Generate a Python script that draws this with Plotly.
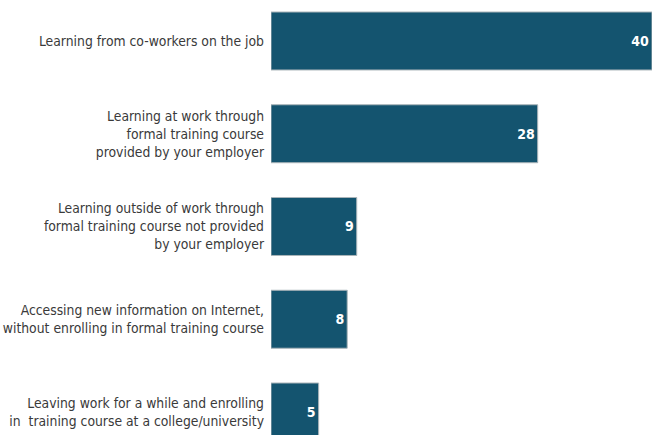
import plotly.graph_objects as go

categories = [
    "Learning from co-workers on the job",
    "Learning at work through<br>formal training course<br>provided by your employer",
    "Learning outside of work through<br>formal training course not provided<br>by your employer",
    "Accessing new information on Internet,<br>without enrolling in formal training course",
    "Leaving work for a while and enrolling<br>in  training course at a college/university",
]
values = [40, 28, 9, 8, 5]
value_labels = ["40", "28", "9", "8", "5"]

FONT = "Liberation Sans Narrow, DejaVu Sans Condensed, Arial Narrow, sans-serif"

fig = go.Figure(
    go.Bar(
        x=values,
        y=categories,
        orientation="h",
        marker=dict(color="#14546f", line=dict(color="#aab4b9", width=1)),
        text=value_labels,
        textposition="inside",
        insidetextanchor="end",
        textangle=0,
        textfont=dict(family=FONT, size=14, color="white", weight="bold"),
        width=0.625,
    )
)

fig.update_layout(
    width=652,
    height=435,
    margin=dict(l=271, r=0, t=0, b=0, autoexpand=False),
    paper_bgcolor="white",
    plot_bgcolor="white",
    showlegend=False,
    font=dict(family=FONT, size=13.8, color="#3a3a3a"),
    xaxis=dict(range=[0, 40], visible=False, showgrid=False, zeroline=False, automargin=False),
    yaxis=dict(
        range=[4.248, -0.442],
        showgrid=False,
        zeroline=False,
        showline=False,
        ticks="",
        automargin=False,
        ticklabelstandoff=6,
        tickfont=dict(family=FONT, size=13.8, color="#3a3a3a"),
    ),
)

fig.write_html(
    "out.html",
    config={"displayModeBar": False},
    post_script="document.body.style.margin='0';document.body.style.overflow='hidden';",
)
